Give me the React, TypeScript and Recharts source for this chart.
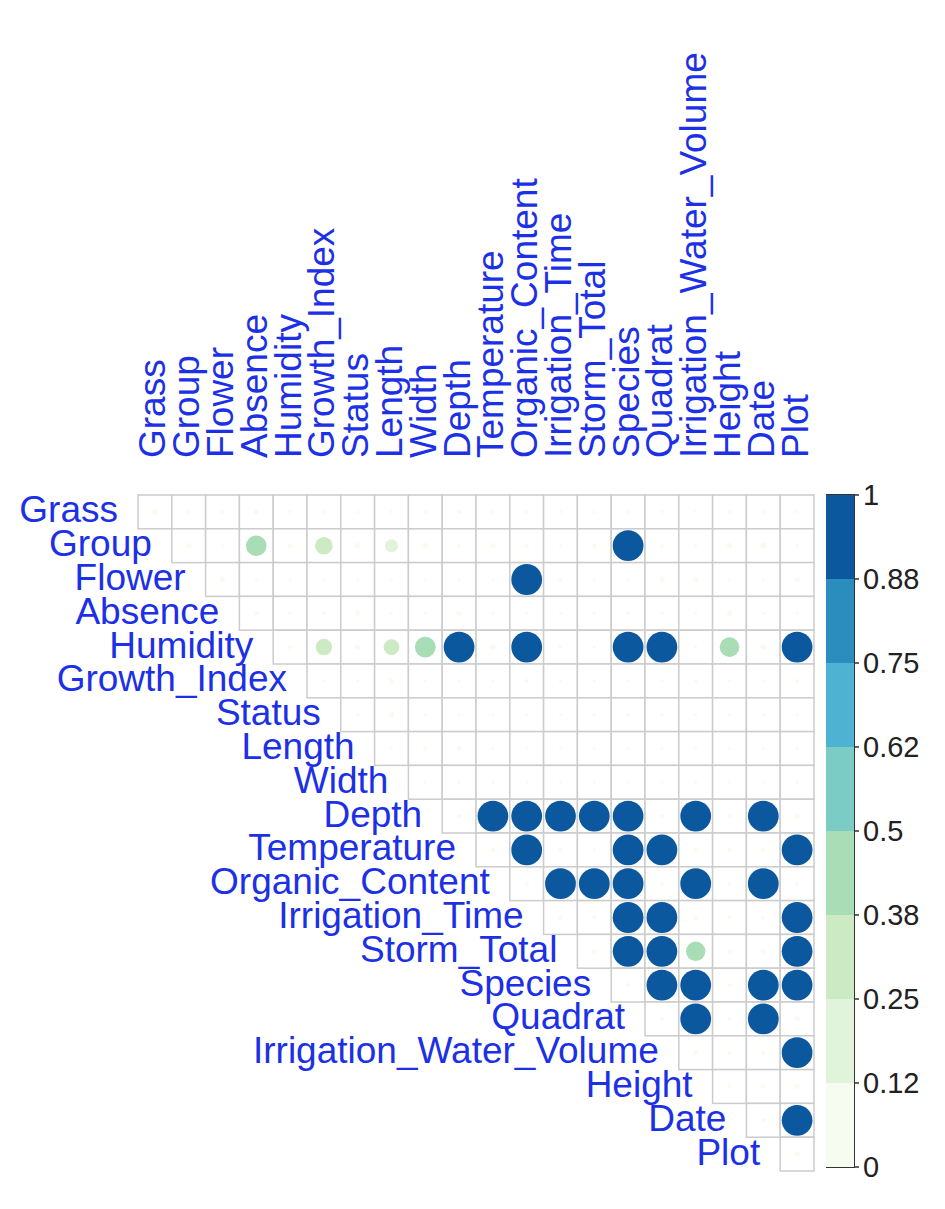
import React from 'react';
import { ScatterChart, Scatter, XAxis, YAxis, BarChart, Bar, ReferenceArea } from 'recharts';

// variable names, same order for rows and columns
const variables = [
  'Grass', 'Group', 'Flower', 'Absence', 'Humidity', 'Growth_Index', 'Status', 'Length', 'Width', 'Depth',
  'Temperature', 'Organic_Content', 'Irrigation_Time', 'Storm_Total', 'Species', 'Quadrat',
  'Irrigation_Water_Volume', 'Height', 'Date', 'Plot',
];

// upper triangle, row i holds columns i..19
const corrRows: number[][] = [
  [0.03, 0.01, 0.01, 0.03, 0.01, 0.01, 0.01, 0.01, 0.01, 0.02, 0.01, 0.01, 0.01, 0.01, 0.01, 0.01, 0.01, 0.01, 0.01, 0.01],
  [0.03, 0.01, 0.44, 0.02, 0.32, 0.03, 0.17, 0.03, 0.02, 0.03, 0.02, 0.01, 0.02, 0.98, 0.02, 0.01, 0.03, 0.04, 0.01],
  [0.03, 0.01, 0.01, 0.01, 0.01, 0.01, 0.01, 0.01, 0.01, 0.98, 0.02, 0.01, 0.01, 0.03, 0.03, 0.01, 0.01, 0.03],
  [0.02, 0.01, 0.01, 0.03, 0.01, 0.01, 0.03, 0.01, 0.01, 0.01, 0.01, 0.01, 0.01, 0.01, 0.03, 0.01, 0.01],
  [0.02, 0.28, 0.03, 0.26, 0.45, 0.98, 0.03, 0.98, 0.02, 0.01, 0.98, 0.98, 0.01, 0.4, 0.03, 0.98],
  [0.01, 0.01, 0.03, 0.01, 0.01, 0.01, 0.02, 0.01, 0.01, 0.01, 0.01, 0.02, 0.01, 0.01, 0.02],
  [0.01, 0.03, 0.01, 0.01, 0.01, 0.01, 0.01, 0.01, 0.01, 0.01, 0.01, 0.01, 0.01, 0.01],
  [0.01, 0.02, 0.02, 0.01, 0.01, 0.01, 0.01, 0.01, 0.01, 0.01, 0.01, 0.01, 0.01],
  [0.01, 0.01, 0.01, 0.01, 0.01, 0.01, 0.01, 0.01, 0.01, 0.01, 0.01, 0.01],
  [0.02, 0.98, 0.98, 0.98, 0.98, 0.98, 0.02, 0.98, 0.02, 0.98, 0.03],
  [0.02, 0.98, 0.02, 0.01, 0.98, 0.98, 0.02, 0.02, 0.02, 0.98],
  [0.02, 0.98, 0.98, 0.98, 0.02, 0.98, 0.02, 0.98, 0.02],
  [0.02, 0.02, 0.98, 0.98, 0.02, 0.02, 0.02, 0.98],
  [0.02, 0.98, 0.98, 0.39, 0.02, 0.02, 0.98],
  [0.02, 0.98, 0.98, 0.02, 0.98, 0.98],
  [0.02, 0.98, 0.02, 0.98, 0.03],
  [0.02, 0.02, 0.02, 0.98],
  [0.02, 0.02, 0.03],
  [0.02, 0.98],
  [0.03],
];

// colour key
const legendBreaks = [0, 0.125, 0.25, 0.375, 0.5, 0.625, 0.75, 0.875, 1];
const legendLabels = ['0', '0.12', '0.25', '0.38', '0.5', '0.62', '0.75', '0.88', '1'];
const bandColors = ['#f7fcf0', '#e0f3db', '#ccebc5', '#a8ddb5', '#7bccc4', '#4eb3d3', '#2b8cbe', '#0b589f'];

const N = variables.length;
const PLOT = 676;
const CELL = PLOT / N;
const LABEL_BLUE = '#1c30e6';
const LABEL_SIZE = 37;
const FONT = '"Liberation Sans", Arial, sans-serif';

const cells = corrRows.flatMap((row, r) =>
  row.map((v, k) => ({ x: r + k + 0.5, y: r + 0.5, value: v }))
);
const axisTicks = variables.map((_, i) => i + 0.5);

const legendRow = legendBreaks.slice(1).reduce((acc: Record<string, any>, b, i) => {
  acc[`b${i}`] = b - legendBreaks[i];
  return acc;
}, { name: 'key' });

function colorFor(v: number) {
  const idx = Math.min(bandColors.length - 1, Math.floor(Math.abs(v) / 0.125));
  return bandColors[idx];
}

const GridCell = (props: any) => (
  <rect
    x={props.cx - CELL / 2}
    y={props.cy - CELL / 2}
    width={CELL}
    height={CELL}
    fill="#ffffff"
    stroke="#cccccc"
    strokeWidth={1.5}
  />
);

const CorrDot = (props: any) => {
  const v = props.payload.value;
  return <circle cx={props.cx} cy={props.cy} r={CELL * 0.46 * Math.sqrt(Math.abs(v))} fill={colorFor(v)} />;
};

const TopTick = (props: any) => {
  const { x, y, payload } = props;
  const name = variables[Math.round(payload.value - 0.5)];
  const tx = x - 2;
  return (
    <text
      x={tx}
      y={y}
      transform={`rotate(-90, ${tx}, ${y})`}
      textAnchor="start"
      dominantBaseline="central"
      fontSize={LABEL_SIZE}
      fontFamily={FONT}
      fill={LABEL_BLUE}
    >
      {name}
    </text>
  );
};

const RowTick = (props: any) => {
  const { x, y, payload } = props;
  const i = Math.round(payload.value - 0.5);
  return (
    <text
      x={x + i * CELL}
      y={y - 2}
      textAnchor="end"
      dominantBaseline="central"
      fontSize={LABEL_SIZE}
      fontFamily={FONT}
      fill={LABEL_BLUE}
    >
      {variables[i]}
    </text>
  );
};

export default function App() {
  return (
    <div style={{ position: 'relative', width: 929, height: 1190, background: '#fff' }}>
      <ScatterChart width={820} height={1180} margin={{ top: 0, right: 14, bottom: 17, left: 0 }}>
        <XAxis
          type="number"
          dataKey="x"
          orientation="top"
          domain={[0, N]}
          ticks={axisTicks}
          interval={0}
          height={487}
          tickSize={0}
          tickMargin={37}
          axisLine={false}
          tickLine={false}
          tick={<TopTick />}
        />
        <YAxis
          type="number"
          dataKey="y"
          domain={[0, N]}
          reversed
          ticks={axisTicks}
          interval={0}
          width={130}
          tickSize={0}
          tickMargin={20}
          axisLine={false}
          tickLine={false}
          tick={<RowTick />}
        />
        <Scatter data={cells} shape={<GridCell />} isAnimationActive={false} />
        <Scatter data={cells} shape={<CorrDot />} isAnimationActive={false} />
      </ScatterChart>

      <div style={{ position: 'absolute', left: 818, top: 0 }}>
        <BarChart
          width={100}
          height={1180}
          data={[legendRow]}
          margin={{ top: 487, right: 0, bottom: 21, left: 0 }}
          barCategoryGap={0}
          barGap={0}
        >
          <XAxis dataKey="name" hide />
          <YAxis
            orientation="right"
            domain={[0, 1]}
            ticks={legendBreaks}
            interval={0}
            width={72}
            axisLine={false}
            tickLine={{ stroke: '#333333', strokeWidth: 1.5 }}
            tickSize={5}
            tickMargin={4}
            tickFormatter={(v: number) => legendLabels[legendBreaks.indexOf(v)]}
            tick={{ fill: '#222222', fontSize: 29, fontFamily: FONT }}
          />
          {bandColors.map((c, i) => (
            <Bar key={c} dataKey={`b${i}`} stackId="key" fill={c} isAnimationActive={false} />
          ))}
          <ReferenceArea y1={0} y2={1} fill="none" stroke="#333333" strokeWidth={2} />
        </BarChart>
      </div>
    </div>
  );
}
